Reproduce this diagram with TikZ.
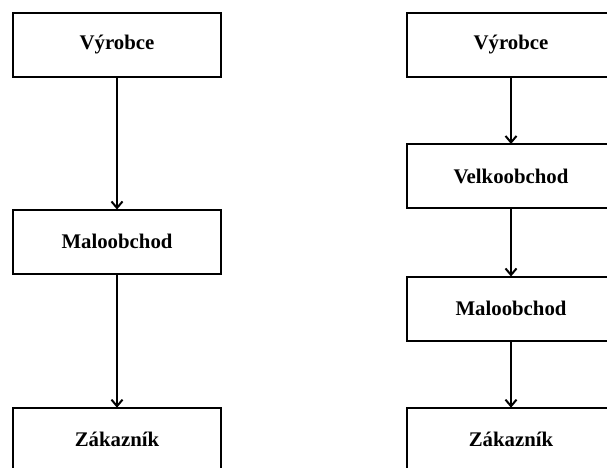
\documentclass[tikz,border=0pt]{standalone}
\usepackage{fontspec}
\setmainfont{Liberation Serif}
\usetikzlibrary{arrows.meta}
\begin{document}
\begin{tikzpicture}[x=1pt,y=-1pt,
  box/.style={draw=black, line width=2pt, fill=white, rectangle,
    minimum width=208.5pt, minimum height=64pt, inner sep=0pt, outer sep=0pt,
    font=\fontsize{20.8}{24}\selectfont\bfseries},
  flow/.style={line width=2pt, -{Straight Barb[length=6.5pt,width=11pt,line width=2pt]}}]
\useasboundingbox (0,0) rectangle (607,467);
\clip (0,0) rectangle (607,467);
% left chain
\node[box] (lv) at (117,44.7) {Výrobce};
\node[box] (lm) at (117,241.5) {Maloobchod};
\node[box] (lz) at (117,439.7) {Zákazník};
% right chain
\node[box] (rv) at (511,44.7) {Výrobce};
\node[box] (rw) at (511,176) {Velkoobchod};
\node[box] (rm) at (511,308.5) {Maloobchod};
\node[box] (rz) at (511,439.7) {Zákazník};
\draw[flow] (lv) -- (lm);
\draw[flow] (lm) -- (lz);
\draw[flow] (rv) -- (rw);
\draw[flow] (rw) -- (rm);
\draw[flow] (rm) -- (rz);
\end{tikzpicture}
\end{document}
